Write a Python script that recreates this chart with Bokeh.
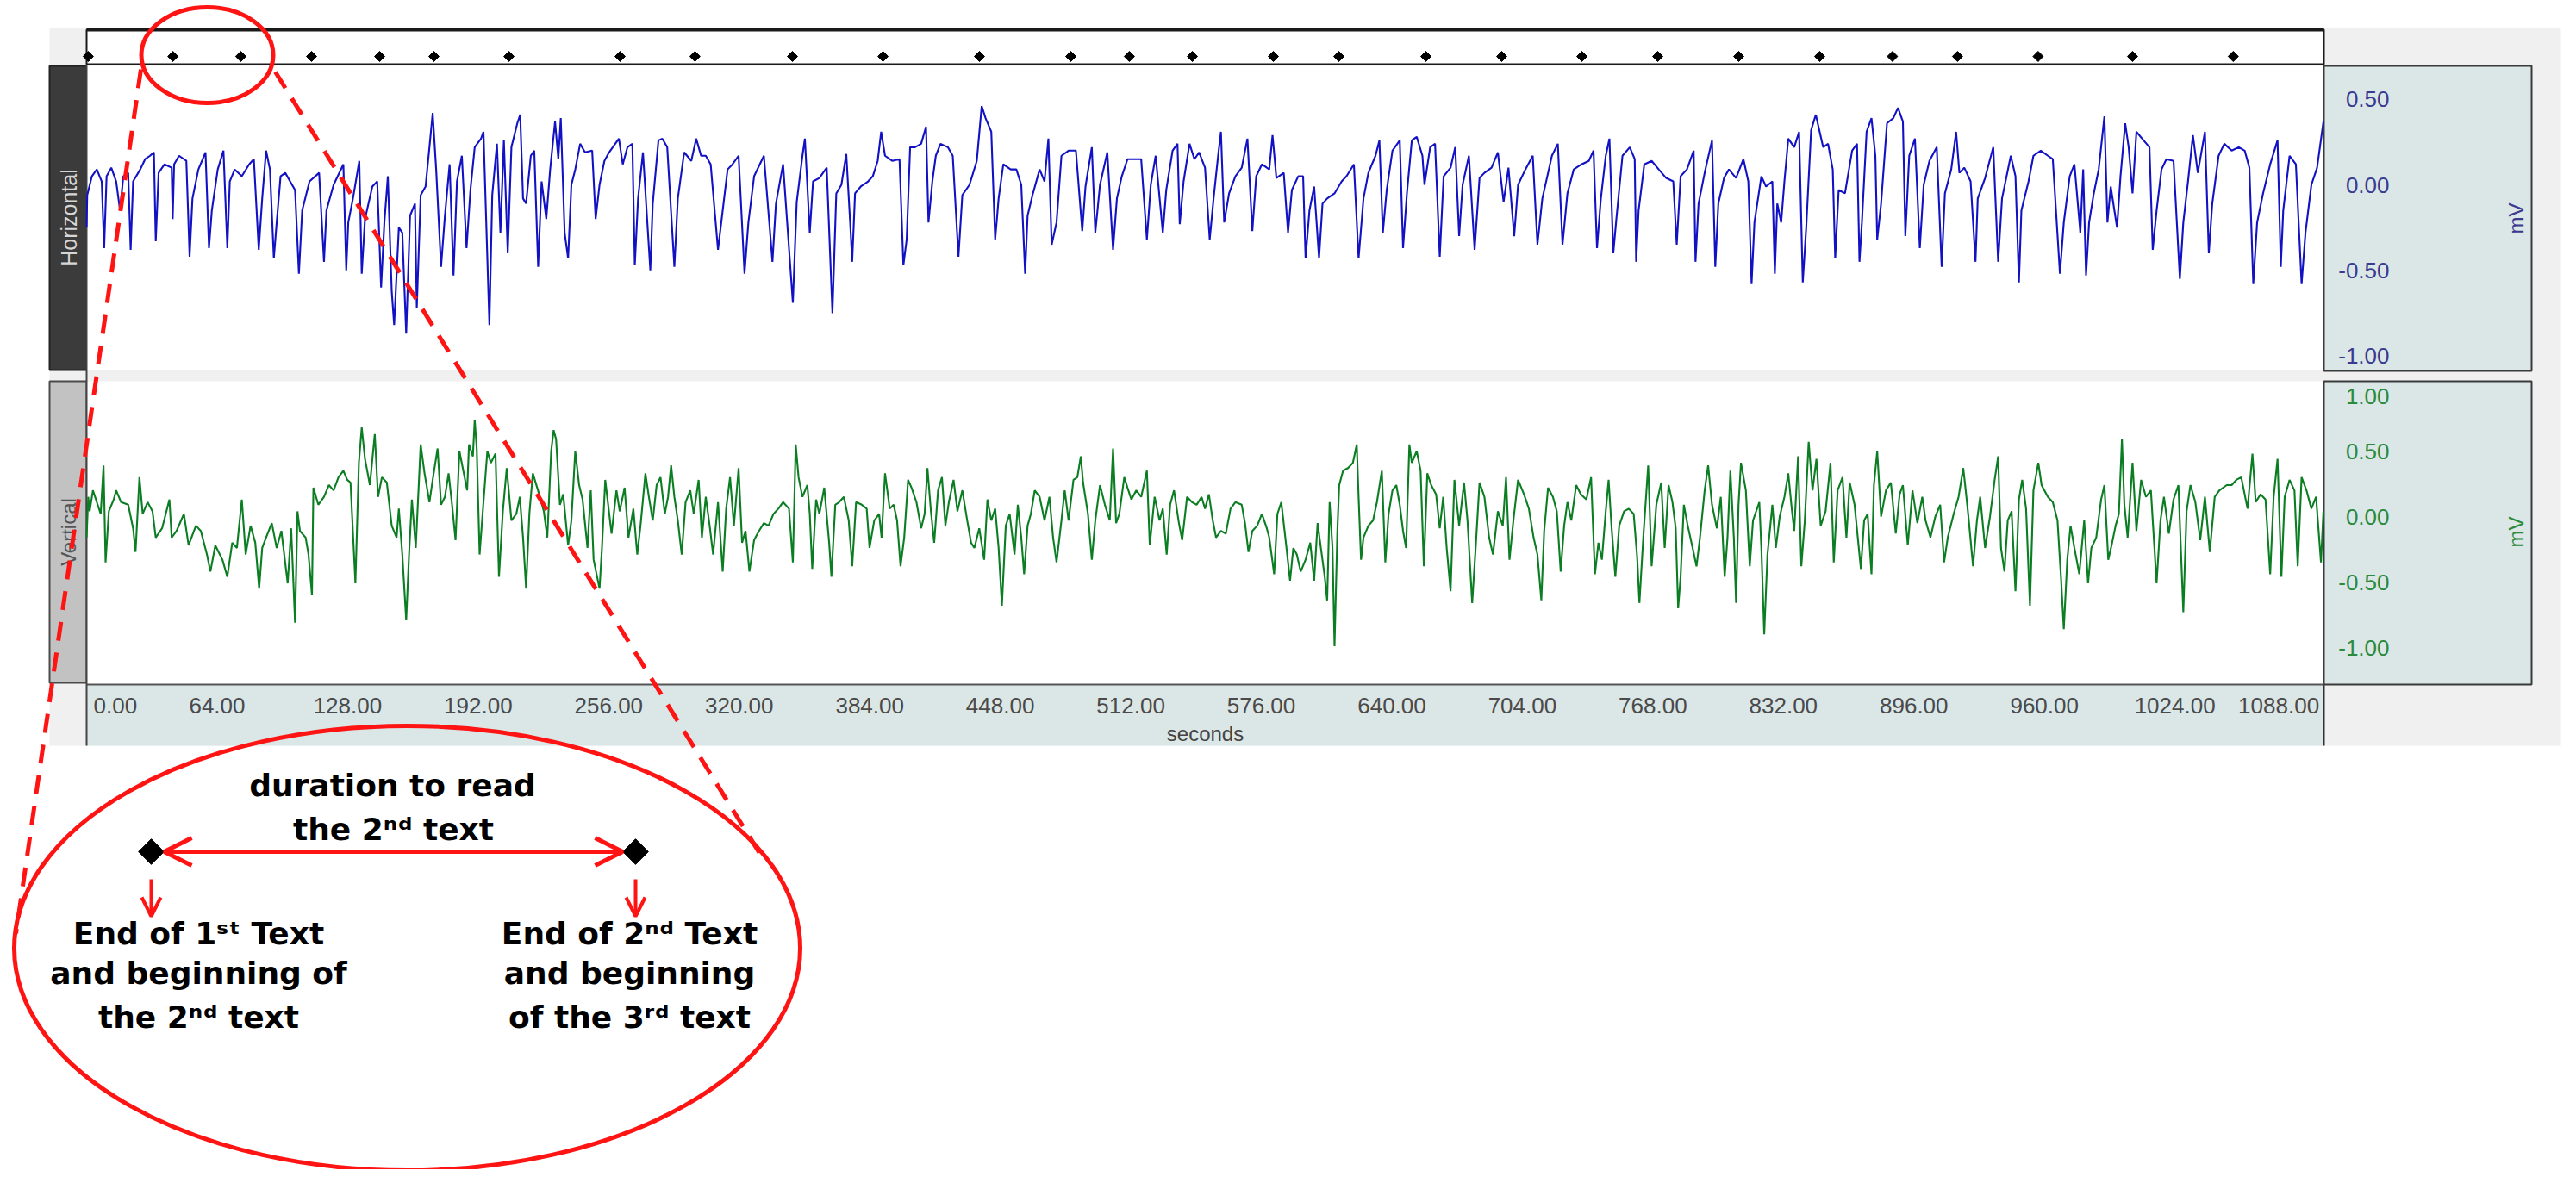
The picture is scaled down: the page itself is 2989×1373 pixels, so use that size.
import math
from bokeh.plotting import figure
from bokeh.models import Range1d, Arrow, OpenHead
from bokeh.core.properties import value
from bokeh.embed import file_html
from bokeh.resources import INLINE

# ---------------- data (seconds, mV) ----------------
horizontal_a = [(0.0,-0.25),(0.3,-0.06),(2.6,0.05),(5.0,0.09),(7.4,0.02),(8.6,-0.37),(9.8,0.05),(12.1,0.10),(14.5,0.02),(16.4,-0.15),(18.0,0.05),(20.4,0.07),(21.6,-0.38),(22.8,0.02),(26.3,0.09),(28.7,0.15),(31.1,0.17),(33.0,0.19),(33.9,-0.33),(35.3,0.07),(38.2,0.12),(41.7,0.10),(42.2,-0.20),(42.9,0.12),(45.3,0.17),(48.9,0.14),(50.5,-0.42),(51.9,-0.08),(54.8,0.09),(58.3,0.19),(60.0,-0.37),(61.4,-0.15),(64.3,0.09),(67.1,0.20),(69.0,-0.37),(70.2,0.02),(72.6,0.09),(76.1,0.05),(79.7,0.12),(82.0,0.15),(84.4,-0.38),(86.1,-0.08),(88.0,0.20),(89.9,0.09),(91.8,-0.43),(93.2,-0.22),(95.1,0.05),(97.4,0.07),(102.2,-0.03),(104.1,-0.52),(105.7,-0.15),(109.3,0.02),(114.0,0.07),(116.4,-0.45),(117.6,-0.15),(121.1,0.00),(125.9,0.12),(127.3,-0.50),(128.3,-0.22),(130.6,-0.08),(133.7,0.14),(134.9,-0.52),(136.5,-0.20),(140.1,-0.01),(142.5,0.02),(144.4,-0.60),(146.0,-0.22),(147.7,0.05),(149.6,-0.62),(150.8,-0.82),(153.1,-0.25),(154.8,-0.28),(156.7,-0.87),(158.6,-0.18),(161.0,-0.11),(161.9,-0.72),(163.8,-0.06),(166.2,-0.01),(168.1,0.22),(169.7,0.42),(171.4,0.09),(173.8,-0.48),(175.7,-0.18),(178.0,0.12),(179.9,-0.53),(181.6,0.02),(184.0,0.17),(186.3,-0.37),(188.2,-0.03),(190.3,0.22),(193.4,0.27),(194.6,0.31),(197.5,-0.82),(198.9,-0.06),(201.2,0.24),(202.9,-0.28),(204.6,0.26),(206.5,-0.40),(208.3,0.22),(211.2,0.36),(212.6,0.41),(214.0,-0.08),(215.5,-0.11),(217.8,0.17),(219.5,0.20),(221.4,-0.48),(223.1,0.02),(225.4,-0.20),(227.3,0.09),(229.7,0.37),(231.3,0.15),(232.5,0.39),(234.4,-0.28),(236.1,-0.43),(237.7,0.00),(239.6,0.09),(242.0,0.24),(244.4,0.19),(247.9,0.20),(249.6,-0.20),(251.5,0.00),(253.9,0.14),(256.2,0.19),(261.0,0.27),(262.9,0.12),(265.2,0.22),(267.6,0.24),(268.8,-0.47),(270.4,-0.08),(272.8,0.19),(276.4,-0.50),(277.6,-0.11),(280.4,0.26),(282.3,0.27),(284.7,0.22),(288.2,-0.48),(289.9,-0.08),(293.0,0.19),(296.5,0.14),(298.9,0.27),(301.3,0.17),(303.6,0.17),(306.0,0.12),(309.6,-0.38),(311.2,-0.22),(314.3,0.09),(316.7,0.12),(319.7,0.17),(322.6,-0.52),(324.5,-0.22),(327.3,0.05),(332.1,0.17),(336.3,-0.45),(338.0,-0.11),(341.5,0.12),(346.3,-0.69),(348.2,-0.10),(351.0,0.17),(352.2,0.27),(354.6,-0.28),(356.2,0.02),(359.3,0.04),(362.9,0.10),(365.7,-0.75),(367.6,-0.05)]

horizontal_b = [(370.1,0.00),(372.5,0.18),(374.4,-0.22),(375.4,-0.45),(376.8,-0.05),(379.6,-0.01),(383.2,0.02),(385.5,0.05),(387.9,0.14),(389.6,0.31),(391.5,0.17),(395.0,0.14),(398.6,0.15),(400.5,-0.47),(402.1,-0.32),(403.8,0.22),(406.2,0.22),(409.2,0.24),(411.6,0.34),(412.8,-0.22),(414.7,0.02),(416.4,0.17),(418.7,0.24),(422.3,0.22),(424.7,0.17),(427.5,-0.42),(429.4,-0.06),(432.9,0.00),(436.5,0.14),(438.9,0.46),(440.8,0.39),(443.6,0.31),(445.5,-0.32),(447.2,-0.08),(449.5,0.12),(453.1,0.09),(455.9,0.09),(458.3,0.00),(460.2,-0.52),(461.4,-0.18),(463.8,-0.06),(467.3,0.09),(469.7,0.02),(471.6,0.27),(473.2,-0.35),(475.6,-0.22),(478.0,0.17),(481.5,0.20),(485.1,0.20),(488.2,-0.27),(489.8,-0.01),(492.9,0.22),(494.6,-0.28),(496.9,0.00),(500.5,0.19),(503.3,-0.38),(505.2,-0.08),(507.6,0.05),(510.4,0.15),(513.5,0.15),(517.1,0.15),(519.9,-0.32),(521.8,0.00),(524.2,0.17),(527.7,-0.28),(529.4,-0.03),(532.5,0.20),(534.9,0.24),(536.0,-0.23),(537.9,0.02),(540.8,0.24),(543.2,0.15),(545.5,0.19),(548.4,0.10),(550.7,-0.32),(552.6,-0.08),(555.0,0.19),(556.2,0.31),(557.8,-0.22),(560.2,-0.05),(563.3,0.05),(566.4,0.10),(569.2,0.27),(571.6,-0.27),(573.5,0.05),(576.3,0.12),(579.9,0.09),(581.5,0.29),(583.4,0.04),(587.0,0.07),(589.1,-0.28),(591.0,-0.03),(594.1,0.05),(596.5,0.05),(597.7,-0.43),(599.6,-0.15),(601.9,-0.01),(604.3,-0.43),(606.0,-0.11),(608.3,-0.08),(611.9,-0.05),(615.4,0.02),(617.8,0.05),(621.4,0.12),(623.7,-0.43),(626.1,-0.08),(628.5,0.07),(632.0,0.17),(633.9,0.26),(635.6,-0.28),(637.5,-0.03),(640.3,0.20),(643.9,0.26),(645.5,-0.37),(647.4,-0.05),(649.8,0.26),(652.2,0.28),(655.0,0.17),(656.0,0.00),(658.8,0.22),(661.2,0.24),(663.5,-0.42),(665.4,0.05),(668.8,0.10),(671.1,0.22),(673.0,-0.30),(674.7,0.00),(677.8,0.17),(680.6,-0.38),(683.0,0.04),(685.4,0.07),(688.9,0.10),(692.0,0.19),(694.8,-0.10),(697.2,0.10),(700.0,-0.30),(701.9,0.00),(705.5,0.09),(709.1,0.17),(711.4,-0.35),(713.8,-0.08),(718.5,0.17),(721.4,0.24),(723.7,-0.35),(726.1,-0.05),(729.2,0.09)]

horizontal_c = [(733.0,0.12),(736.6,0.14),(738.9,0.20),(740.6,-0.37),(742.5,-0.08),(744.9,0.17),(746.7,0.27),(748.6,-0.40),(750.1,-0.20),(753.1,0.17),(756.7,0.22),(759.1,0.15),(759.8,-0.45),(761.0,-0.15),(763.8,0.12),(767.4,0.14),(770.9,0.09),(774.5,0.04),(778.0,0.02),(779.7,-0.35),(781.6,0.05),(784.7,0.09),(788.0,0.20),(788.9,-0.45),(790.4,-0.11),(793.4,0.07),(797.0,0.26),(798.6,-0.48),(800.1,-0.11),(802.9,0.04),(805.3,0.09),(808.8,0.04),(812.4,0.15),(814.8,0.02),(816.4,-0.58),(817.8,-0.22),(821.2,0.05),(823.5,-0.01),(826.6,0.02),(827.8,-0.52),(829.0,-0.11),(830.9,-0.22),(832.5,0.02),(834.4,0.27),(837.3,0.22),(839.7,0.31),(841.5,-0.57),(843.2,-0.25),(845.6,0.32),(847.9,0.41),(849.6,0.32),(851.5,0.22),(853.9,0.24),(856.2,0.09),(857.4,-0.43),(859.1,-0.03),(862.2,-0.05),(865.7,0.20),(868.1,0.24),(869.3,-0.45),(870.5,-0.22),(872.8,0.31),(875.2,0.39),(877.1,0.17),(878.0,-0.32),(879.9,-0.11),(882.8,0.36),(885.9,0.39),(888.2,0.45),(890.6,0.37),(891.8,-0.30),(893.7,0.17),(896.5,0.27),(898.9,-0.37),(900.8,0.00),(903.6,0.14),(907.2,0.22),(909.6,-0.48),(911.2,-0.05),(914.3,0.09),(916.7,0.31),(918.3,0.07),(920.7,0.10),(923.8,0.02),(926.2,-0.45),(927.3,-0.08),(930.9,0.04),(934.9,0.22),(937.3,-0.45),(939.2,-0.08),(943.5,0.17),(945.8,0.05),(947.5,-0.57),(948.7,-0.15),(952.2,0.02),(954.6,0.17),(958.2,0.20),(961.7,0.17),(964.1,0.15),(967.6,-0.52),(969.5,-0.22),(972.4,0.05),(974.7,0.12),(977.6,-0.28),(979.0,0.09),(980.4,-0.53),(981.9,-0.22),(984.2,-0.05),(986.6,0.09),(989.4,0.40),(990.9,-0.22),(992.5,-0.01),(995.6,-0.25),(997.3,0.05),(999.6,0.36),(1001.3,0.22),(1003.2,-0.05),(1005.1,0.31),(1007.9,0.27),(1011.5,0.22),(1013.1,-0.38),(1015.0,-0.15),(1017.4,0.09),(1019.8,0.15),(1023.3,0.14),(1026.4,-0.55),(1028.1,-0.22),(1030.4,0.02),(1032.8,0.29),(1035.2,0.07),(1038.7,0.31),(1040.6,-0.40),(1042.3,-0.11),(1045.4,0.17),(1048.2,0.24),(1051.8,0.20),(1055.3,0.22),(1058.2,0.20),(1060.5,0.10),(1062.4,-0.58),(1064.3,-0.22),(1067.2,-0.05),(1070.7,0.12),(1074.3,0.26),(1075.9,-0.48),(1077.1,-0.15),(1080.2,0.17),(1083.3,0.12),(1086.1,-0.58),(1088.0,-0.28),(1090.9,0.00),(1093.7,0.10),(1096.8,0.37)]

vertical_a = [(0.0,-0.16),(0.8,0.15),(1.5,0.04),(3.1,0.20),(5.0,0.11),(6.9,0.02),(8.3,0.39),(9.3,-0.35),(10.9,0.04),(13.3,0.13),(14.5,0.20),(16.9,0.11),(20.4,0.09),(22.8,-0.09),(24.0,-0.27),(25.9,0.30),(27.5,0.02),(29.9,0.11),(32.3,0.04),(33.9,-0.16),(37.0,-0.09),(40.6,0.13),(41.7,-0.16),(44.1,-0.11),(47.7,0.02),(50.0,-0.22),(53.6,-0.07),(56.0,-0.11),(59.0,-0.29),(60.7,-0.42),(63.1,-0.22),(66.6,-0.33),(69.0,-0.46),(71.4,-0.20),(73.7,-0.24),(76.1,0.13),(78.0,-0.29),(80.4,-0.07),(82.7,-0.20),(84.6,-0.55),(86.1,-0.24),(88.0,-0.16),(90.8,-0.05),(93.2,-0.24),(95.5,-0.11),(98.6,-0.51),(100.3,-0.09),(102.2,-0.81),(103.4,0.04),(104.6,-0.11),(107.4,-0.16),(108.8,-0.29),(110.5,-0.60),(111.2,0.22),(113.6,0.09),(116.4,0.15),(118.8,0.24),(121.1,0.20),(123.5,0.30),(125.9,0.35),(127.8,0.28),(129.4,0.26),(131.8,-0.51),(133.5,0.41),(134.9,0.68),(136.5,0.44),(138.9,0.24),(141.3,0.63),(142.9,0.15),(144.8,0.30),(147.2,0.26),(149.6,-0.07),(152.0,-0.16),(153.1,0.06),(154.8,-0.29),(156.7,-0.79),(158.1,-0.29),(159.5,0.13),(161.4,-0.24),(163.8,0.55),(165.7,0.33),(168.1,0.11),(169.7,0.28),(172.1,0.52),(173.8,0.09),(175.7,0.15),(177.5,0.33),(179.2,0.09),(180.9,-0.18),(182.8,0.50),(184.7,0.35),(186.6,0.20),(187.5,0.55),(189.4,0.46),(190.3,0.74),(191.3,0.52),(192.7,-0.29),(194.6,0.11),(196.5,0.50),(198.2,0.41),(200.5,0.48),(202.2,-0.46),(204.1,0.04),(206.0,0.37),(208.3,-0.03),(210.7,0.02),(212.4,0.15),(214.0,-0.16),(215.5,-0.55),(217.1,0.02),(218.8,0.33),(221.9,0.17),(224.2,0.04),(225.9,-0.16),(227.8,0.50),(229.0,0.66),(230.2,0.59),(232.1,0.09),(233.7,0.17),(236.1,-0.22),(237.7,-0.03),(239.6,0.50),(241.5,0.24),(243.2,0.13),(245.6,-0.24),(247.2,0.20),(248.6,-0.33),(251.5,-0.55),(252.7,-0.24),(254.3,0.28),(257.4,-0.13),(259.8,0.20),(261.4,0.04),(263.8,0.22),(265.7,-0.16),(268.1,0.06),(270.0,-0.29),(271.6,-0.07),(274.0,0.33),(275.7,0.15),(277.6,-0.03),(279.5,0.24),(281.4,0.30),(283.5,0.02),(285.1,0.15),(286.6,0.39),(288.2,0.15),(289.9,-0.03),(291.8,-0.29),(293.7,0.11),(296.0,0.20),(297.7,0.02),(300.1,0.28),(301.7,-0.16),(303.6,0.15),(305.5,-0.07),(307.2,-0.29),(309.6,0.11),(311.9,-0.42),(313.6,0.06),(315.5,0.30),(317.4,-0.07),(319.7,0.37),(321.4,-0.20),(323.1,-0.11),(325.0,-0.42),(327.3,-0.18),(329.7,-0.11),(332.1,-0.05),(334.4,-0.07),(336.8,0.02),(339.2,0.06),(341.5,0.11),(344.4,0.06),(346.3,-0.35),(347.7,0.55),(349.1,0.30),(351.0,0.15),(353.4,0.24),(354.6,0.02),(355.8,-0.40),(357.7,0.13),(359.3,0.02),(361.7,0.22),(364.1,-0.20),(365.2,-0.46),(367.1,0.09)]

vertical_b = [(369.0,0.11),(371.3,0.15),(373.7,-0.03),(375.4,-0.38),(377.3,0.11),(380.1,0.09),(382.5,0.06),(383.9,-0.24),(386.2,-0.03),(388.6,0.02),(389.8,-0.16),(391.5,0.33),(393.8,0.06),(395.7,0.09),(397.4,-0.03),(399.1,-0.38),(400.9,-0.16),(402.8,0.28),(404.5,0.22),(406.9,0.11),(409.2,-0.09),(410.9,0.02),(412.3,0.37),(414.0,0.04),(415.6,-0.20),(417.5,0.20),(419.4,0.30),(421.1,-0.07),(422.8,0.11),(425.1,0.28),(427.0,0.04),(429.4,0.20),(431.8,-0.03),(433.7,-0.20),(435.3,-0.24),(437.7,-0.09),(440.1,-0.33),(441.7,0.13),(443.6,-0.03),(445.5,0.06),(447.2,-0.24),(448.8,-0.68),(450.7,-0.07),(452.6,0.02),(455.0,-0.29),(456.6,0.09),(458.3,-0.16),(459.7,-0.44),(461.4,-0.07),(463.0,0.02),(464.9,0.20),(467.3,0.15),(469.7,-0.03),(472.1,0.15),(473.9,-0.16),(475.6,-0.35),(478.0,-0.03),(479.6,0.20),(481.5,-0.03),(483.9,0.28),(485.8,0.30),(487.5,0.46),(488.6,0.26),(491.0,0.02),(492.9,-0.33),(494.6,-0.03),(496.9,0.24),(499.3,0.09),(501.7,-0.03),(503.3,0.52),(504.8,-0.05),(506.4,0.02),(508.8,0.30),(510.4,0.22),(512.3,0.13),(514.7,0.20),(517.1,0.15),(519.9,0.35),(521.3,-0.22),(523.7,0.15),(526.1,-0.03),(527.7,0.06),(529.6,-0.29),(531.3,0.09),(533.2,0.20),(535.6,-0.05),(537.2,-0.18),(539.6,0.15),(542.0,0.11),(544.3,0.09),(546.7,0.15),(548.4,0.06),(550.3,0.17),(552.2,-0.03),(553.8,-0.16),(556.2,-0.11),(558.6,-0.13),(560.9,0.06),(563.3,0.11),(566.4,0.09),(568.0,-0.05),(569.7,-0.27),(571.6,-0.11),(574.0,-0.07),(576.3,0.02),(578.7,-0.09),(579.9,-0.16),(582.3,-0.44),(583.9,0.02),(585.8,0.11),(588.2,-0.22),(590.1,-0.49),(591.7,-0.24),(593.4,-0.29),(595.3,-0.42),(597.7,-0.33),(600.0,-0.20),(601.9,-0.49),(603.6,-0.05),(605.2,-0.24),(607.1,-0.46),(608.3,-0.64),(609.5,0.11),(610.9,-0.24),(611.9,-0.99),(613.3,-0.11),(614.2,0.24),(616.1,0.35),(618.5,0.37),(620.9,0.41),(622.8,0.55),(623.7,0.15),(624.9,-0.33),(626.1,-0.16),(628.5,-0.07),(630.8,-0.03),(632.7,0.11),(635.1,0.35),(636.8,-0.35),(638.4,0.02),(640.3,0.20),(642.2,0.24),(643.9,0.09),(645.5,-0.11),(647.0,-0.24),(648.6,0.55),(649.8,0.41),(652.2,0.50),(654.1,0.35),(655.7,-0.38),(657.4,0.33),(659.3,0.24),(661.7,0.17),(663.5,-0.09),(665.2,0.15),(666.9,-0.24),(668.8,-0.57),(670.7,0.28),(673.0,-0.07),(675.4,0.26),(677.1,-0.03),(679.4,-0.66),(681.1,-0.24),(683.0,0.26),(685.4,0.15),(687.7,-0.16),(689.6,-0.29),(692.0,0.04),(694.4,-0.07),(696.0,0.30),(697.7,-0.33),(699.6,-0.03),(701.9,0.28),(704.8,0.17),(707.2,0.06),(709.5,-0.16),(711.4,-0.29),(713.3,-0.64),(714.7,-0.11),(716.6,0.22),(719.0,0.15),(720.9,0.04),(722.8,-0.42),(724.5,-0.07),(726.1,0.11),(728.0,-0.03),(730.4,0.24),(732.7,0.17)]

vertical_c = [(735.4,0.13),(737.7,0.30),(739.6,-0.44),(741.3,-0.20),(743.0,-0.33),(744.9,0.04),(746.3,0.28),(747.7,-0.07),(749.6,-0.46),(751.5,-0.07),(753.9,0.04),(756.2,0.06),(758.6,0.02),(760.3,-0.31),(761.4,-0.66),(763.3,-0.16),(765.7,0.39),(767.4,-0.38),(769.7,0.09),(772.1,0.26),(773.8,-0.24),(775.7,0.24),(777.6,0.11),(779.2,-0.09),(780.4,-0.70),(781.6,-0.46),(783.2,0.09),(785.1,-0.07),(787.5,-0.24),(789.4,-0.38),(791.1,-0.16),(793.4,0.20),(795.1,0.39),(797.0,0.09),(799.4,-0.09),(801.3,0.15),(803.2,-0.46),(804.6,-0.16),(806.0,0.35),(807.7,-0.16),(808.8,-0.66),(810.0,0.09),(811.2,0.41),(813.6,0.20),(815.5,-0.38),(817.1,-0.03),(820.2,0.11),(821.2,-0.24),(822.6,-0.90),(824.2,-0.29),(826.6,0.09),(828.3,-0.24),(830.2,0.00),(832.5,0.15),(834.4,0.33),(836.1,0.06),(837.3,-0.11),(839.2,0.46),(840.8,-0.38),(842.5,-0.03),(844.4,0.57),(846.3,0.20),(848.2,0.44),(850.3,-0.07),(852.7,0.04),(855.1,0.41),(856.7,-0.35),(858.6,0.20),(861.0,0.30),(862.9,-0.16),(864.5,0.26),(866.9,0.09),(870.0,-0.40),(871.6,-0.03),(873.3,0.02),(875.2,-0.44),(876.4,0.24),(878.0,0.50),(879.9,0.00),(882.3,0.20),(884.7,0.26),(887.1,-0.13),(889.0,0.17),(890.6,0.24),(893.0,-0.22),(895.3,0.20),(897.7,-0.05),(900.1,0.15),(901.7,-0.03),(904.1,-0.16),(906.5,0.00),(908.9,0.09),(910.8,-0.35),(912.6,-0.16),(915.5,0.02),(917.9,0.15),(920.2,0.37),(921.4,0.20),(922.6,0.02),(925.0,-0.38),(926.9,-0.03),(928.5,0.15),(930.9,-0.24),(933.3,0.00),(935.6,0.28),(937.3,0.46),(938.7,-0.24),(940.4,-0.42),(942.0,-0.03),(943.9,0.04),(945.8,-0.57),(947.5,0.13),(949.1,0.28),(951.0,0.06),(952.9,-0.68),(954.6,0.20),(957.0,0.41),(958.6,0.24),(961.7,0.15),(964.1,0.11),(966.4,-0.03),(968.1,-0.46),(969.5,-0.86),(971.2,-0.33),(972.8,-0.07),(974.7,-0.24),(977.1,-0.44),(979.5,-0.03),(981.4,-0.51),(983.0,-0.24),(985.4,-0.16),(987.8,0.13),(989.4,0.24),(991.3,-0.33),(993.2,-0.20),(994.9,-0.07),(996.5,0.02),(998.0,0.59),(999.2,0.09),(1000.8,-0.16),(1003.2,0.41),(1005.1,-0.11),(1007.4,0.28),(1009.8,0.15),(1012.2,0.20),(1015.0,-0.51),(1016.9,-0.03),(1018.6,0.15),(1021.0,-0.13),(1023.3,0.13),(1025.7,0.24),(1028.1,-0.73),(1029.7,0.04),(1031.6,0.24),(1034.0,0.11),(1036.4,-0.18),(1038.7,0.15),(1041.1,-0.27),(1043.5,0.15),(1045.8,0.20),(1049.4,0.24),(1051.8,0.24),(1054.1,0.28),(1056.5,0.30),(1059.6,0.06),(1062.0,0.48),(1063.6,0.11),(1066.0,0.17),(1068.4,0.13),(1070.7,-0.44),(1072.4,0.15),(1074.3,0.44),(1076.2,-0.46),(1077.8,0.15),(1080.2,0.28),(1082.6,0.20),(1084.2,-0.38),(1086.1,0.30),(1088.5,0.20),(1090.9,0.06),(1093.2,0.15),(1095.6,-0.35),(1096.8,0.04)]

# event markers (end of one text / start of the next), seconds
marker_times = [0.8, 42.3, 75.6, 110.3, 143.7, 170.3, 207.1, 261.6, 298.3, 346.1, 390.5, 437.8, 482.6, 511.3, 542.2,
                581.9, 614.0, 656.7, 693.9, 733.2, 770.4, 810.1, 849.8, 885.5, 917.4, 956.9, 1003.2, 1052.6]

x_tick_values = [0, 64, 128, 192, 256, 320, 384, 448, 512, 576, 640, 704, 768, 832, 896, 960, 1024, 1088]
x_tick_labels = ["0.00", "64.00", "128.00", "192.00", "256.00", "320.00", "384.00", "448.00", "512.00",
                 "576.00", "640.00", "704.00", "768.00", "832.00", "896.00", "960.00", "1024.00", "1088.00"]
h_tick_values = [0.5, 0.0, -0.5, -1.0]
h_tick_labels = ["0.50", "0.00", "-0.50", "-1.00"]
v_tick_values = [0.5, 0.0, -0.5, -1.0]
v_tick_labels = ["0.50", "0.00", "-0.50", "-1.00"]
v_top_value, v_top_label = 1.0, "1.00"

# ---------------- layout (page pixels) ----------------
W, H = 2973, 1357
PANEL_L, PANEL_R = 100, 2696
PX_PER_S = 2603.0 / 1100.0
H_ZERO, H_PX_PER_MV = 214.0, 198.5
V_ZERO, V_PX_PER_MV = 599.0, 152.0
BOX_R, BG_R = 2937, 2971

p = figure(width=W, height=H, x_range=Range1d(0, W), y_range=Range1d(H, 0),
           output_backend="svg", toolbar_location=None, min_border=0,
           x_axis_location=None, y_axis_location=None)
p.grid.visible = False
p.outline_line_color = None
p.background_fill_color = "white"
p.border_fill_color = "white"
p.extra_x_ranges = {"sec": Range1d(-PANEL_L / PX_PER_S, (W - PANEL_L) / PX_PER_S)}
p.extra_y_ranges = {
    "h": Range1d((H_ZERO - H) / H_PX_PER_MV, H_ZERO / H_PX_PER_MV),
    "v": Range1d((V_ZERO - H) / V_PX_PER_MV, V_ZERO / V_PX_PER_MV),
}

def box(l, r, t, b, fill, line=None, lw=1):
    p.quad(left=[l], right=[r], top=[t], bottom=[b], fill_color=fill,
           line_color=line, line_width=lw)

BAND = "#dbe6e6"
DARK = "#3a3a3a"
box(57, BG_R, 32, 865, "#f0f0f0")
box(PANEL_L, PANEL_R, 34, 74, "white", "#1a1a1a", 2)
p.line([PANEL_L, PANEL_R], [34, 34], line_width=4, line_color="#1a1a1a")
box(57, PANEL_L, 76, 429, "#3b3b3b", "#222222", 2)
box(57, PANEL_L, 442, 792, "#c2c2c2", "#4a4a4a", 2)
box(PANEL_L, PANEL_R, 76, 429, "white")
box(PANEL_L, PANEL_R, 442, 794, "white")
box(PANEL_R, BOX_R, 76, 430, BAND, DARK, 2)
box(PANEL_R, BOX_R, 442, 794, BAND, DARK, 2)
box(PANEL_L, PANEL_R, 794, 865, BAND)
p.line([PANEL_L, PANEL_R], [794, 794], line_width=2, line_color="#555555")
p.line([PANEL_L, PANEL_L], [76, 865], line_width=2, line_color="#444444")
p.line([PANEL_R, PANEL_R], [794, 865], line_width=2, line_color="#333333")

# ---------------- traces ----------------
h_series = horizontal_a + horizontal_b + horizontal_c
v_series = vertical_a + vertical_b + vertical_c
p.line([t for t, _ in h_series], [v for _, v in h_series], x_range_name="sec", y_range_name="h",
       line_color="#1212c4", line_width=2.1)
p.line([t for t, _ in v_series], [v for _, v in v_series], x_range_name="sec", y_range_name="v",
       line_color="#0b7d22", line_width=2.1)

# event markers in the top strip
p.scatter(marker_times, [65] * len(marker_times), x_range_name="sec", marker="square",
          angle=math.pi / 4, size=8.5, fill_color="black", line_color="black")

# ---------------- axis texts ----------------
UI = value("Liberation Sans")
TICK_COL = "#4a4a4a"
p.text(x_tick_values[1:-1], [818] * (len(x_tick_values) - 2), text=x_tick_labels[1:-1], x_range_name="sec",
       text_align="center", text_baseline="middle", text_font=UI, text_font_size="26px", text_color=TICK_COL)
p.text([x_tick_values[0]], [818], text=[x_tick_labels[0]], x_range_name="sec", x_offset=8,
       text_align="left", text_baseline="middle", text_font=UI, text_font_size="26px", text_color=TICK_COL)
p.text([x_tick_values[-1]], [818], text=[x_tick_labels[-1]], x_range_name="sec", x_offset=16,
       text_align="right", text_baseline="middle", text_font=UI, text_font_size="26px", text_color=TICK_COL)
p.text([(PANEL_L + PANEL_R) / 2], [851], text=["seconds"], text_align="center", text_baseline="middle",
       text_font=UI, text_font_size="24px", text_color="#444444")

H_COL, V_COL = "#3a3a90", "#2b8a3c"
LBL_X, MV_X = 2772, 2919
p.text([LBL_X] * len(h_tick_values), h_tick_values, text=h_tick_labels, y_range_name="h",
       text_align="right", text_baseline="middle", text_font=UI, text_font_size="26px", text_color=H_COL)
p.text([LBL_X] * len(v_tick_values), v_tick_values, text=v_tick_labels, y_range_name="v",
       text_align="right", text_baseline="middle", text_font=UI, text_font_size="26px", text_color=V_COL)
p.text([LBL_X], [v_top_value], text=[v_top_label], y_range_name="v", y_offset=12,
       text_align="right", text_baseline="middle", text_font=UI, text_font_size="26px", text_color=V_COL)
p.text([MV_X], [253], text=["mV"], angle=math.pi / 2, text_align="center", text_baseline="middle",
       text_font=UI, text_font_size="24px", text_color=H_COL)
p.text([MV_X], [617], text=["mV"], angle=math.pi / 2, text_align="center", text_baseline="middle",
       text_font=UI, text_font_size="24px", text_color=V_COL)
p.text([79], [252], text=["Horizontal"], angle=math.pi / 2, text_align="center", text_baseline="middle",
       text_font=UI, text_font_size="25px", text_color="#d6d6d6")
p.text([79], [617], text=["Vertical"], angle=math.pi / 2, text_align="center", text_baseline="middle",
       text_font=UI, text_font_size="24px", text_color="#555555")

# ---------------- red call-out ----------------
RED = "#ff1414"
p.ellipse([240], [63.5], width=[153], height=[111], fill_color=None, line_color=RED, line_width=5)
p.ellipse([472], [1100], width=[912], height=[516], fill_color=None, line_color=RED, line_width=5)
p.line([163, 18], [80, 1083], line_color=RED, line_width=5, line_dash="22 14")
p.line([319, 883], [83, 993], line_color=RED, line_width=5, line_dash="22 14")

p.add_layout(Arrow(start=OpenHead(size=32, line_color=RED, line_width=5),
                   end=OpenHead(size=32, line_color=RED, line_width=5),
                   x_start=190, y_start=988, x_end=722, y_end=988, line_color=RED, line_width=5))
for ax in (175, 737):
    p.add_layout(Arrow(end=OpenHead(size=22, line_color=RED, line_width=4),
                       x_start=ax, y_start=1020, x_end=ax, y_end=1063, line_color=RED, line_width=4))
p.scatter([175, 737], [988, 988], marker="square", angle=math.pi / 4, size=21,
          fill_color="black", line_color="black")

ANN = value("DejaVu Sans")
ann_lines = [("duration to read", 455, 911), ("the 2\u207f\u1d48 text", 456, 962),
             ("End of 1\u02e2\u1d57 Text", 230, 1083), ("and beginning of", 230, 1129),
             ("the 2\u207f\u1d48 text", 230, 1180),
             ("End of 2\u207f\u1d48 Text", 730, 1083), ("and beginning", 730, 1129),
             ("of the 3\u02b3\u1d48 text", 730, 1180)]
p.text([a[1] for a in ann_lines], [a[2] for a in ann_lines], text=[a[0] for a in ann_lines],
       text_align="center", text_baseline="middle", text_font=ANN, text_font_style="bold",
       text_font_size="36px", text_color="black")

open("out.html", "w").write(file_html(p, INLINE))
